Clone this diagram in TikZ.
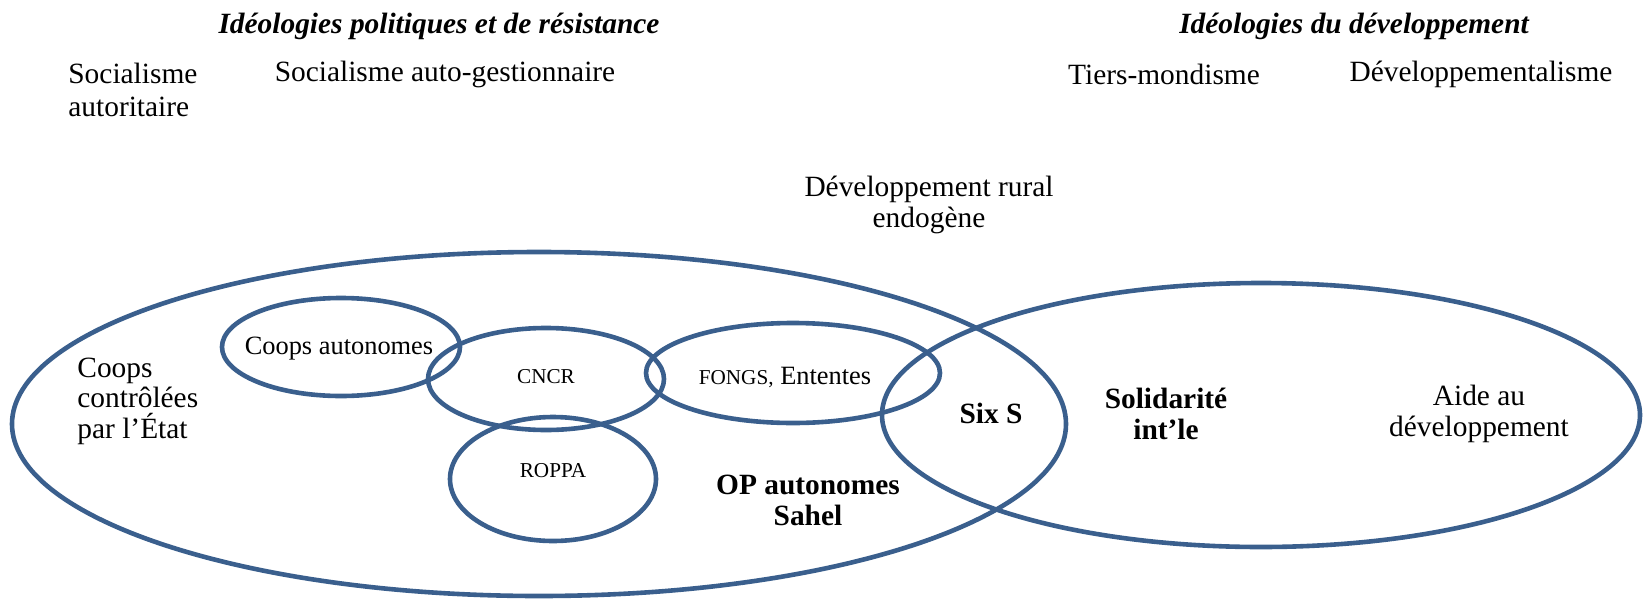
\documentclass[tikz,border=0pt]{standalone}
\usepackage{fontspec}
\setmainfont{Liberation Serif}
\definecolor{ringblue}{RGB}{58,95,141}

\begin{document}
\begin{tikzpicture}[x=0.5pt,y=-0.5pt,
  every node/.style={font=\fontsize{14.7}{15.3}\selectfont,align=center,inner sep=0pt},
  ring/.style={draw=ringblue,line width=2.3pt},
  head/.style={font=\fontsize{14.7}{15.3}\selectfont\bfseries\itshape},
  tiny/.style={font=\fontsize{10.6}{12}\selectfont},
  mid/.style={font=\fontsize{13.2}{14}\selectfont},
  strong/.style={font=\fontsize{14.7}{15.5}\selectfont\bfseries}]
  \useasboundingbox (0,0) rectangle (1645,600);

  % ideologies
  \node[head] (polit) at (439,26) {Idéologies politiques et de résistance};
  \node[head] (devel) at (1354,26) {Idéologies du développement};
  \node[align=left,anchor=west,font=\fontsize{14.7}{16.5}\selectfont] (autor) at (68,90) {Socialisme\\autoritaire};
  \node (autog) at (445,74) {Socialisme auto-gestionnaire};
  \node (tiers) at (1164,74) {Tiers-mondisme};
  \node (devmt) at (1481,74) {Développementalisme};
  \node (rural) at (929,205) {Développement rural\\endogène};

  % ellipses
  \draw[ring] (539,424) ellipse [x radius=527, y radius=172];
  \draw[ring] (1261,415) ellipse [x radius=379, y radius=132];
  \draw[ring] (341,347) ellipse [x radius=119, y radius=49];
  \draw[ring] (546,379) ellipse [x radius=118, y radius=51];
  \draw[ring] (553,479) ellipse [x radius=103, y radius=62];
  \draw[ring] (793,373) ellipse [x radius=147, y radius=50];

  % labels
  \node[align=left,anchor=west] (ctrl) at (77,401) {Coops\\contrôlées\\par l’État};
  \node[mid] (auton) at (339,349) {Coops autonomes};
  \node[tiny] (cncr) at (546,377) {CNCR};
  \node[mid] (fongs) at (785,377) {{\fontsize{10.6}{12}\selectfont FONGS,} Ententes};
  \node[tiny] (roppa) at (553,471) {ROPPA};
  \node[strong] (opsah) at (808,500) {OP autonomes\\Sahel};
  \node[strong] (sixs) at (991,413) {Six S};
  \node[strong] (solid) at (1166,414) {Solidarité\\int’le};
  \node (aide) at (1479,414) {Aide au\\développement};
\end{tikzpicture}
\end{document}
